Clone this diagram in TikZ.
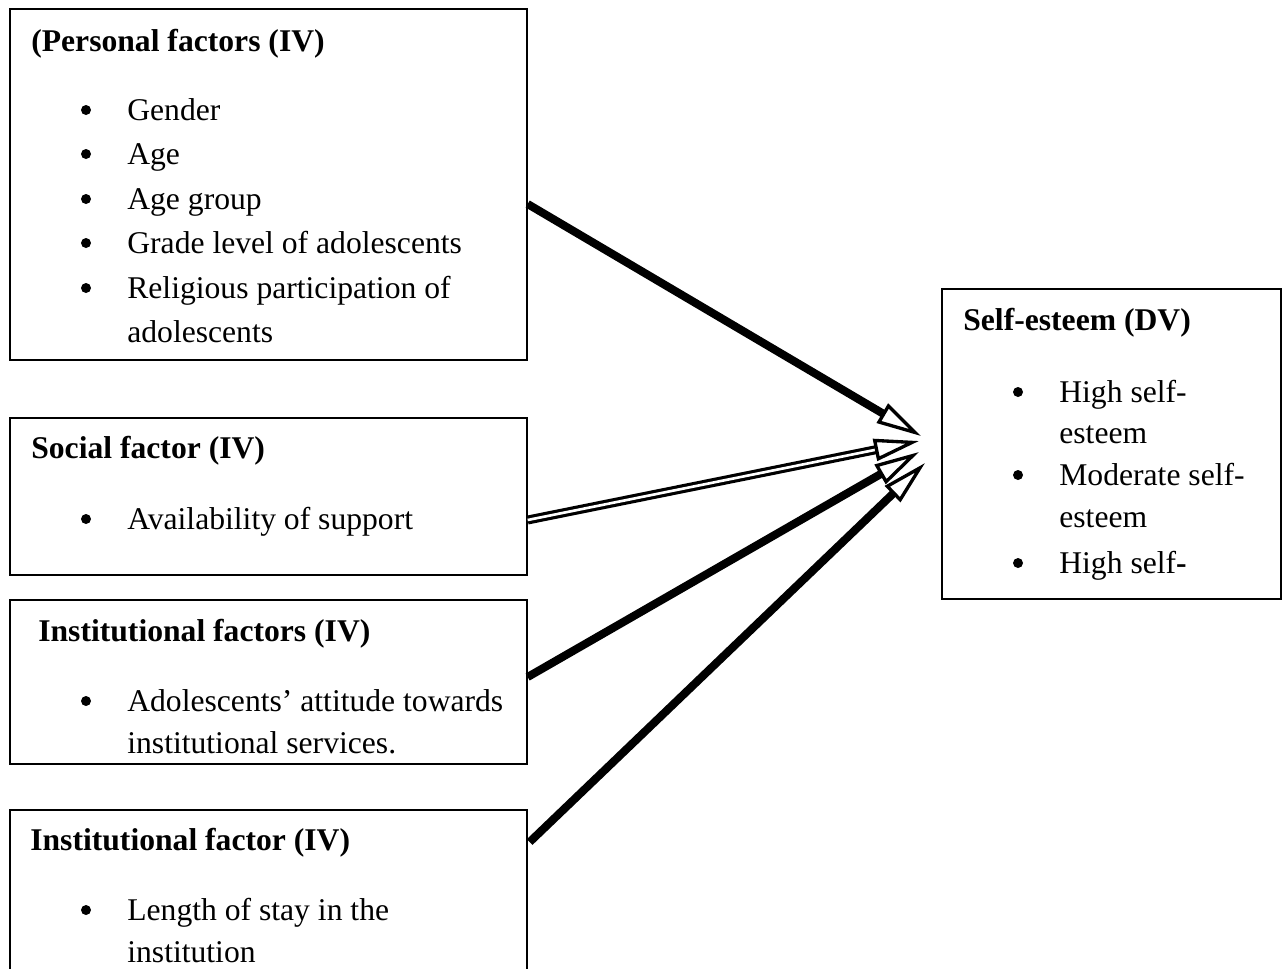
\documentclass[tikz,border=0pt]{standalone}
\usepackage{fontspec}
\setmainfont{Liberation Serif}
\usepackage{tikz}
\usetikzlibrary{arrows.meta,positioning,calc}
\tikzstyle{factorbox}=[draw,line width=0.8pt,inner sep=0pt,minimum width=10.34cm]
\tikzstyle{heading}=[anchor=base west,inner sep=0pt,font=\fontsize{18}{25}\selectfont\bfseries]
\tikzstyle{item}=[anchor=base west,inner sep=0pt]
\tikzstyle{dot}=[circle,fill=black,inner sep=0pt,minimum size=0.2cm]
\tikzstyle{link}=[draw,line width=4.6pt,-{Triangle[open,length=0.9cm,width=0.44cm,line width=1.9pt]}]
\tikzstyle{hollowlink}=[link,double,double distance=1.5pt,line width=1.8pt]

\begin{document}
\begin{tikzpicture}[x=0.02cm,y=-0.02cm,font=\fontsize{18}{25}\selectfont]

\useasboundingbox (0,0) rectangle (1283,968);

%boxes
\node[factorbox,minimum height=7.02cm] (personal) at (268.5,184.5) {};
\node[factorbox,minimum height=3.14cm] (social) at (268.5,496.5) {};
\node[factorbox,minimum height=3.28cm] (inst) at (268.5,682) {};
\node[factorbox,minimum height=3.3cm] (instb) at (268.5,892.5) {};
\node[draw,line width=0.8pt,inner sep=0pt,minimum width=6.78cm,minimum height=6.2cm] (self) at (1111.5,444) {};

%headings
\node[heading] (personalT) at (31,51) {(Personal factors (IV)};
\node[heading] (socialT) at (31,458) {Social factor (IV)};
\node[heading] (instT) at (38,641) {Institutional factors (IV)};
\node[heading] (instbT) at (30,850) {Institutional factor (IV)};
\node[heading] (selfT) at (963,330) {Self-esteem (DV)};

%bullet items, left
\foreach \y/\name/\txt in {120/pA/Gender, 164/pB/Age, 209/pC/Age group, 253/pD/Grade level of adolescents, 298/pE/Religious participation of, 529/sA/Availability of support, 711/iA/Adolescents' attitude towards, 920/jA/Length of stay in the}
{
    \node[dot] (\name d) at (86,\y-10) {};
    \node[item] (\name) at (127,\y) {\txt};
}
%second lines
\node[item] (pEb) at (127,342) {adolescents};
\node[item] (iAb) at (127,753) {institutional services.};
\node[item] (jAb) at (127,962) {institution};

%bullet items, right
\foreach \y/\name/\txt in {402/dA/High self-, 485/dB/Moderate self-, 573/dC/High self\textbf{-}}
{
    \node[dot] (\name d) at (1018,\y-10) {};
    \node[item] (\name) at (1059,\y) {\txt};
}
\node[item] (dAb) at (1059,443) {esteem};
\node[item] (dBb) at (1059,527) {esteem};

%arrow tips
\coordinate (tipA) at (921,436);
\coordinate (tipB) at (919,441);
\coordinate (tipC) at (919,452);
\coordinate (tipD) at (925,463);

%arrows
\path[link] ($(personal.east)+(0,19.5)$) -- (tipA);
\path[hollowlink] ($(social.east)+(0,23.5)$) -- (tipB);
\path[link] ($(inst.east)+(0,-5)$) -- (tipC);
\path[link] ($(instb.east)+(2,-50.5)$) -- (tipD);

\end{tikzpicture}
\end{document}
